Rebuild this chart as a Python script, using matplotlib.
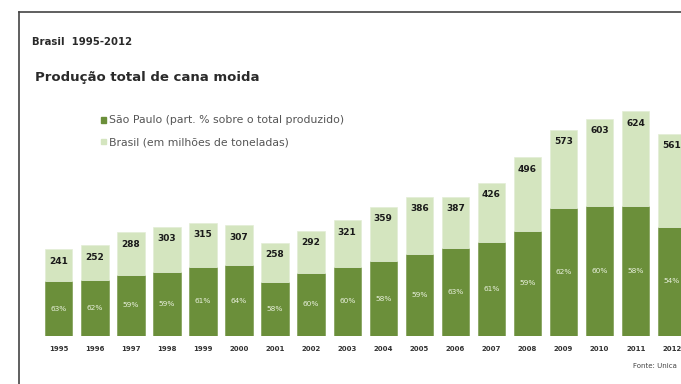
import matplotlib
matplotlib.use("Agg")
import matplotlib.pyplot as plt
from matplotlib.lines import Line2D
from matplotlib.patches import Rectangle

years = ["1995", "1996", "1997", "1998", "1999", "2000", "2001", "2002", "2003",
         "2004", "2005", "2006", "2007", "2008", "2009", "2010", "2011", "2012"]
brasil = [241, 252, 288, 303, 315, 307, 258, 292, 321, 359, 386, 387, 426, 496, 573, 603, 624, 561]
sp_pct = [63, 62, 59, 59, 61, 64, 58, 60, 60, 58, 59, 63, 61, 59, 62, 60, 58, 54]

dark = "#6b8f3a"
light = "#d4e5bf"

fig = plt.figure(figsize=(6.81, 3.84), dpi=100)
W, H = 681, 384

# frame (top and left)
fig.add_artist(Line2D([19 / W, 1], [1 - 12 / H, 1 - 12 / H], color="#444444", lw=1.2))
fig.add_artist(Line2D([19 / W, 19 / W], [0, 1 - 12 / H], color="#444444", lw=1.2))

bottom_px, top_px = 336, 12
ax = fig.add_axes([0, 1 - bottom_px / H, 1, (bottom_px - top_px) / H])
step = 36.06
c0 = 58.75
ax.set_xlim(-c0 / step, (W - c0) / step)
ax.set_ylim(0, (bottom_px - top_px) / 0.36)
ax.axis("off")

x = list(range(len(years)))
sp_vals = [b * p / 100 for b, p in zip(brasil, sp_pct)]
rest = [b - s for b, s in zip(brasil, sp_vals)]
bw = 0.76
ax.bar(x, sp_vals, width=bw, color=dark, edgecolor="#7f9f55", lw=0.5)
ax.bar(x, rest, bottom=sp_vals, width=bw, color=light, edgecolor="#e3eed6", lw=0.5)

for i in x:
    ax.annotate(str(brasil[i]), (i, brasil[i]), xytext=(0, -8.5), textcoords="offset points",
                ha="center", va="center", fontsize=6.5, fontweight="bold", color="#1a1a1a")
    ax.text(i, sp_vals[i] / 2, f"{sp_pct[i]}%", ha="center", va="center",
            fontsize=5.3, color="#e8f0dc")
    ax.annotate(years[i], (i, 0), xytext=(0, -9.5), textcoords="offset points",
                ha="center", va="center", fontsize=5, fontweight="bold", color="#333333",
                annotation_clip=False)

fig.text(32 / W, 1 - 42 / H, "Brasil  1995-2012", fontsize=7.3, fontweight="bold",
         color="#2a2a2a", va="center", ha="left")
fig.text(35 / W, 1 - 77 / H, "Produção total de cana moida", fontsize=9.5, fontweight="bold",
         color="#2a2a2a", va="center", ha="left")

# legend
for yy, col, lab in [(120, dark, "São Paulo (part. % sobre o total produzido)"),
                     (142, light, "Brasil (em milhões de toneladas)")]:
    fig.add_artist(Rectangle((101 / W, 1 - (yy + 2.5) / H), 5 / W, 5 / H, color=col,
                             transform=fig.transFigure))
    fig.text(109 / W, 1 - yy / H, lab, fontsize=7.8, color="#555555", va="center", ha="left")

fig.text(1 - 4 / W, 1 - 366 / H, "Fonte: Unica", fontsize=5, color="#444444",
         va="center", ha="right")

fig.savefig("out.png", dpi=100)
